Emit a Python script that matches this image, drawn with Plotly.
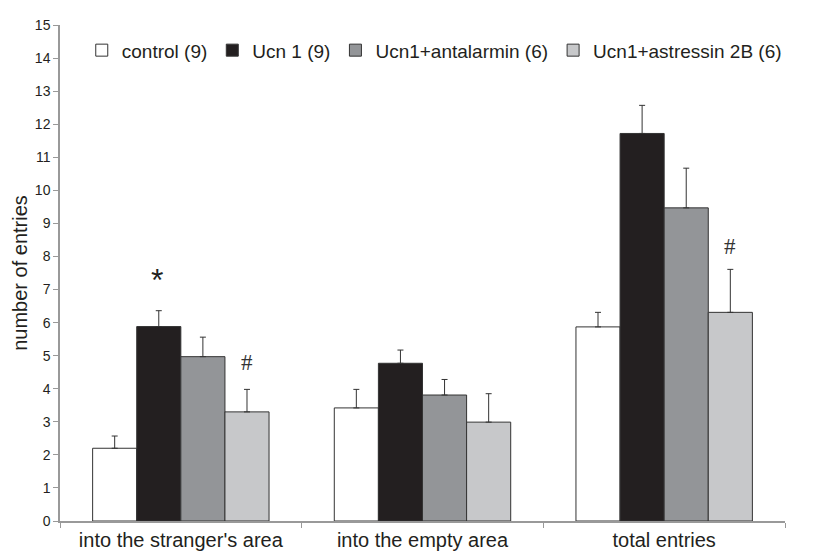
import plotly.graph_objects as go

categories = ["into the stranger's area", "into the empty area", "total entries"]
groups = ["control (9)", "Ucn 1 (9)", "Ucn1+antalarmin (6)", "Ucn1+astressin 2B (6)"]

control = [2.2, 3.42, 5.87]
ucn1 = [5.88, 4.77, 11.72]
antalarmin = [4.97, 3.81, 9.47]
astressin = [3.3, 2.99, 6.31]

control_err = [0.37, 0.56, 0.44]
ucn1_err = [0.48, 0.4, 0.85]
antalarmin_err = [0.59, 0.47, 1.2]
astressin_err = [0.68, 0.86, 1.3]

means = [control, ucn1, antalarmin, astressin]
errors = [control_err, ucn1_err, antalarmin_err, astressin_err]
colors = ["#ffffff", "#231f20", "#939598", "#c7c8ca"]

FONT = "Arial, Liberation Sans, sans-serif"

fig = go.Figure()
for name, vals, errs, col in zip(groups, means, errors, colors):
    fig.add_trace(go.Bar(
        x=categories,
        y=vals,
        name=name,
        marker=dict(color=col, line=dict(color="#333333", width=1)),
        error_y=dict(type="data", array=errs, arrayminus=[0] * len(errs),
                     symmetric=False, color="#333333", thickness=1, width=3),
    ))

# significance marks
fig.add_annotation(x=categories[0], y=7.3, text="*", showarrow=False, xshift=-24,
                   font=dict(size=32, color="#231f20", family=FONT))
fig.add_annotation(x=categories[0], y=4.8, text="#", showarrow=False, xshift=66,
                   font=dict(size=23, color="#333333", family="Liberation Serif, serif"))
fig.add_annotation(x=categories[2], y=8.3, text="#", showarrow=False, xshift=66,
                   font=dict(size=23, color="#333333", family="Liberation Serif, serif"))

# margins compensate for the 8px default body margin of the page
fig.update_layout(
    width=840, height=560,
    margin=dict(l=52, r=63, t=9, b=47),
    plot_bgcolor="white", paper_bgcolor="white",
    barmode="group", bargap=0.27, bargroupgap=0,
    font=dict(family=FONT, size=14, color="#231f20"),
    legend=dict(orientation="h", x=0.03, y=0.949, xanchor="left", yanchor="middle",
                font=dict(size=19), traceorder="normal", itemwidth=30,
                bgcolor="rgba(0,0,0,0)"),
    xaxis=dict(showline=True, linecolor="#999999", linewidth=1.5,
               ticks="outside", tickson="boundaries", ticklen=5, tickcolor="#999999",
               tickfont=dict(size=20)),
    yaxis=dict(range=[0, 15], dtick=1, showgrid=False, zeroline=False,
               showline=True, linecolor="#999999", linewidth=1.5,
               ticks="outside", ticklen=5, tickcolor="#999999",
               title=dict(text="number of entries", font=dict(size=20), standoff=2),
               tickfont=dict(size=14)),
)

fig.write_html("out.html")
